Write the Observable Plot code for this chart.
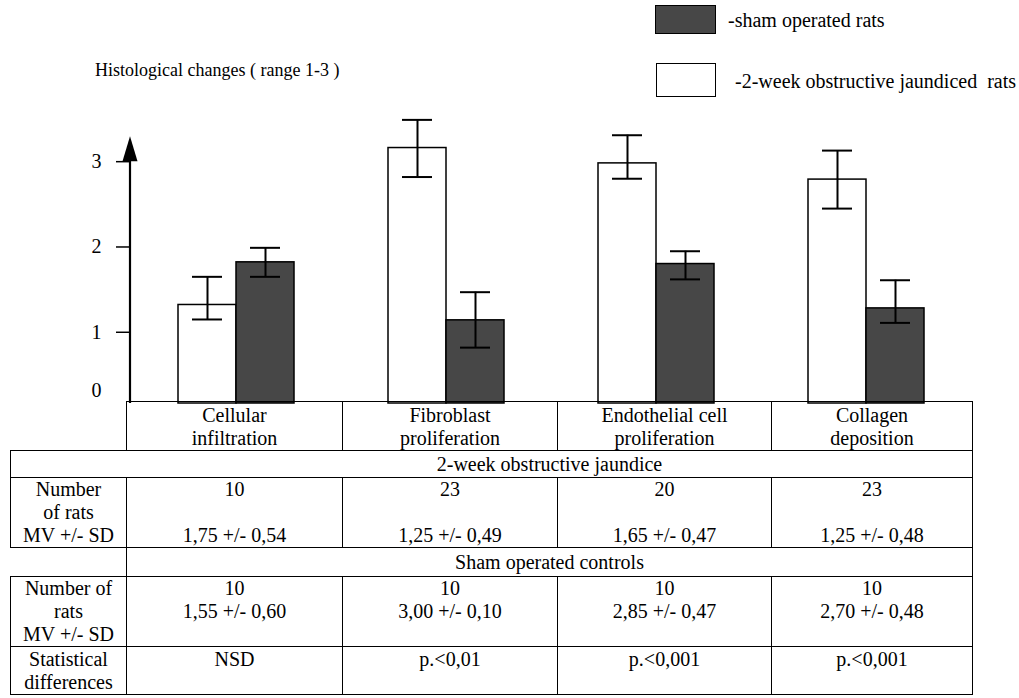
<!DOCTYPE html>
<html>
<head>
<meta charset="utf-8">
<script src="https://cdn.jsdelivr.net/npm/d3@7"></script>
<script src="https://cdn.jsdelivr.net/npm/@observablehq/plot@0.6"></script>
<style>
  body { margin: 0; background: #fff; }
  #fig { position: relative; width: 1019px; height: 698px; overflow: hidden; background: #fff;
         font-family: "Liberation Serif", "Times New Roman", serif; color: #000; }
  #chart { position: absolute; left: 0; top: 0; }
  .title { position: absolute; left: 95px; top: 59px; font-size: 18px; line-height: 22px; white-space: pre; }
  .sw { position: absolute; border: 1.5px solid #000; box-sizing: border-box; }
  .lt { position: absolute; font-size: 20px; line-height: 22px; white-space: pre; }
  table { position: absolute; left: 10px; top: 401px; width: 962px; border-collapse: collapse; table-layout: fixed;
          font-family: "Liberation Serif", "Times New Roman", serif; font-size: 20px; line-height: 23px; }
  td { border: 1.5px solid #000; text-align: center; vertical-align: top; padding: 0; white-space: pre; overflow: visible; }
  td.blank { border-top: none; border-left: none; }
  td.grp { vertical-align: middle; padding-top: 0; }
  tr.head td { padding-top: 2px; }
  tr.stat td { padding-top: 1px; }
</style>
</head>
<body>
<div id="fig">
  <div id="chart"></div>
</div>
<script>
// ---------- data ----------
const categories = ["Cellular infiltration", "Fibroblast proliferation", "Endothelial cell proliferation", "Collagen deposition"];
const categoryLabels = ["Cellular\ninfiltration", "Fibroblast\nproliferation", "Endothelial cell\nproliferation", "Collagen\ndeposition"];
const groups = ["2-week obstructive jaundiced rats", "sham operated rats"];
const legendLabels = ["-2-week obstructive jaundiced  rats", "-sham operated rats"];
const groupColors = ["#ffffff", "#474747"];

const jaundiceMean = [1.32, 3.16, 2.98, 2.79];
const jaundiceLow  = [1.15, 2.82, 2.80, 2.45];
const jaundiceHigh = [1.65, 3.49, 3.31, 3.13];
const shamMean = [1.82, 1.14, 1.80, 1.28];
const shamLow  = [1.65, 0.82, 1.62, 1.11];
const shamHigh = [1.99, 1.47, 1.95, 1.61];

const yTicks = [1, 2, 3];
const yZeroLabel = [0];
const chartTitle = "Histological changes ( range 1-3 )";

const jaundiceN  = [10, 23, 20, 23];
const jaundiceMV = ["1,75 +/- 0,54", "1,25 +/- 0,49", "1,65 +/- 0,47", "1,25 +/- 0,48"];
const shamN  = [10, 10, 10, 10];
const shamMV = ["1,55 +/- 0,60", "3,00 +/- 0,10", "2,85 +/- 0,47", "2,70 +/- 0,48"];
const statDiff = ["NSD", "p.<0,01", "p.<0,001", "p.<0,001"];
const jaundiceHeader = "2-week obstructive jaundice";
const shamHeader = "Sham operated controls";
const rowLabel1 = "Number\nof rats\nMV +/- SD";
const rowLabel2 = "Number of\nrats\nMV +/- SD";
const statLabel = "Statistical\ndifferences";

// ---------- build table for Plot ----------
const rows = [];
categories.forEach((c, i) => {
  rows.push({cat: c, group: groups[0], mean: jaundiceMean[i], lo: jaundiceLow[i], hi: jaundiceHigh[i]});
  rows.push({cat: c, group: groups[1], mean: shamMean[i], lo: shamLow[i], hi: shamHigh[i]});
});

const chart = Plot.plot({
  width: 1019, height: 403,
  marginLeft: 130, marginRight: 47, marginTop: 110, marginBottom: 0,
  style: {fontFamily: "Liberation Serif, Times New Roman, serif", fontSize: "20px", background: "transparent", color: "#000", overflow: "visible"},
  fx: {domain: categories, padding: 0, axis: null},
  x: {domain: groups, paddingInner: 0, paddingOuter: 0.784, axis: null},
  y: {domain: [0.165, 3.6], clamp: true, axis: null},
  color: {domain: groups, range: groupColors},
  marks: [
    Plot.barY(rows, {fx: "cat", x: "group", y: "mean", fill: "group", stroke: "#000", strokeWidth: 1.5}),
    Plot.ruleX(rows, {fx: "cat", x: "group", y1: "lo", y2: "hi", stroke: "#000", strokeWidth: 2}),
    Plot.tickY(rows, {fx: "cat", x: "group", y: "lo", insetLeft: 14, insetRight: 14, stroke: "#000", strokeWidth: 2}),
    Plot.tickY(rows, {fx: "cat", x: "group", y: "hi", insetLeft: 14, insetRight: 14, stroke: "#000", strokeWidth: 2}),
    Plot.axisY({ticks: yTicks, tickSize: 15, tickPadding: 15, fontSize: 20, strokeWidth: 1.5, tickFormat: d => String(d)}),
    Plot.axisY({ticks: yZeroLabel, tickSize: 0, tickPadding: 30, dy: -13, fontSize: 20, tickFormat: d => String(d)})
  ]
});

// y-axis line with arrow head, positioned from the plot's own scales
(function addAxisArrow() {
  const ys = chart.scale("y");
  const fxs = chart.scale("fx");
  const x0 = fxs.range[0];
  const yBase = ys.range[0];
  const yTop = ys.apply(yTicks[yTicks.length - 1]);
  const svg = d3.select(chart);
  svg.append("line")
    .attr("x1", x0).attr("x2", x0).attr("y1", yBase).attr("y2", yTop - 8)
    .attr("stroke", "#000").attr("stroke-width", 2.2);
  svg.append("path")
    .attr("d", `M${x0 - 7.5},${yTop}L${x0 + 7.5},${yTop}L${x0},${yTop - 25}Z`)
    .attr("fill", "#000");
})();

const fig = document.getElementById("fig");
document.getElementById("chart").appendChild(chart);

// title
const t = document.createElement("div");
t.className = "title"; t.textContent = chartTitle;
fig.appendChild(t);

// legend (sham first on top, then jaundiced)
const legendLayout = [
  {g: 1, sw: [655, 5, 61, 29], tx: [728, 9]},
  {g: 0, sw: [656, 63, 60, 34], tx: [735, 70]}
];
legendLayout.forEach(l => {
  const s = document.createElement("div");
  s.className = "sw";
  s.style.left = l.sw[0] + "px"; s.style.top = l.sw[1] + "px";
  s.style.width = l.sw[2] + "px"; s.style.height = l.sw[3] + "px";
  s.style.background = groupColors[l.g];
  fig.appendChild(s);
  const tx = document.createElement("div");
  tx.className = "lt"; tx.textContent = legendLabels[l.g];
  tx.style.left = l.tx[0] + "px"; tx.style.top = l.tx[1] + "px";
  fig.appendChild(tx);
});

// data table below the chart
const table = document.createElement("table");
const colW = [116, 216, 215, 214, 201];
const cg = document.createElement("colgroup");
colW.forEach(w => { const c = document.createElement("col"); c.style.width = w + "px"; cg.appendChild(c); });
table.appendChild(cg);
function addRow(h, cls) { const tr = document.createElement("tr"); tr.style.height = h + "px"; if (cls) tr.className = cls; table.appendChild(tr); return tr; }
function addCell(tr, text, opts = {}) {
  const td = document.createElement("td");
  td.textContent = text;
  if (opts.cls) td.className = opts.cls;
  if (opts.colspan) td.colSpan = opts.colspan;
  if (opts.style) Object.assign(td.style, opts.style);
  tr.appendChild(td); return td;
}
let tr = addRow(49, "head");
addCell(tr, "", {cls: "blank"});
categoryLabels.forEach(c => addCell(tr, c));
tr = addRow(27);
addCell(tr, jaundiceHeader, {colspan: 5, cls: "grp", style: {paddingLeft: "116px"}});
tr = addRow(69);
addCell(tr, rowLabel1);
categories.forEach((c, i) => addCell(tr, jaundiceN[i] + "\n\n" + jaundiceMV[i]));
tr = addRow(29);
addCell(tr, "", {cls: "blank"});
addCell(tr, shamHeader, {colspan: 4, cls: "grp"});
tr = addRow(69);
addCell(tr, rowLabel2);
categories.forEach((c, i) => addCell(tr, shamN[i] + "\n" + shamMV[i]));
tr = addRow(46, "stat");
addCell(tr, statLabel);
categories.forEach((c, i) => addCell(tr, statDiff[i]));
fig.appendChild(table);
</script>
</body>
</html>
